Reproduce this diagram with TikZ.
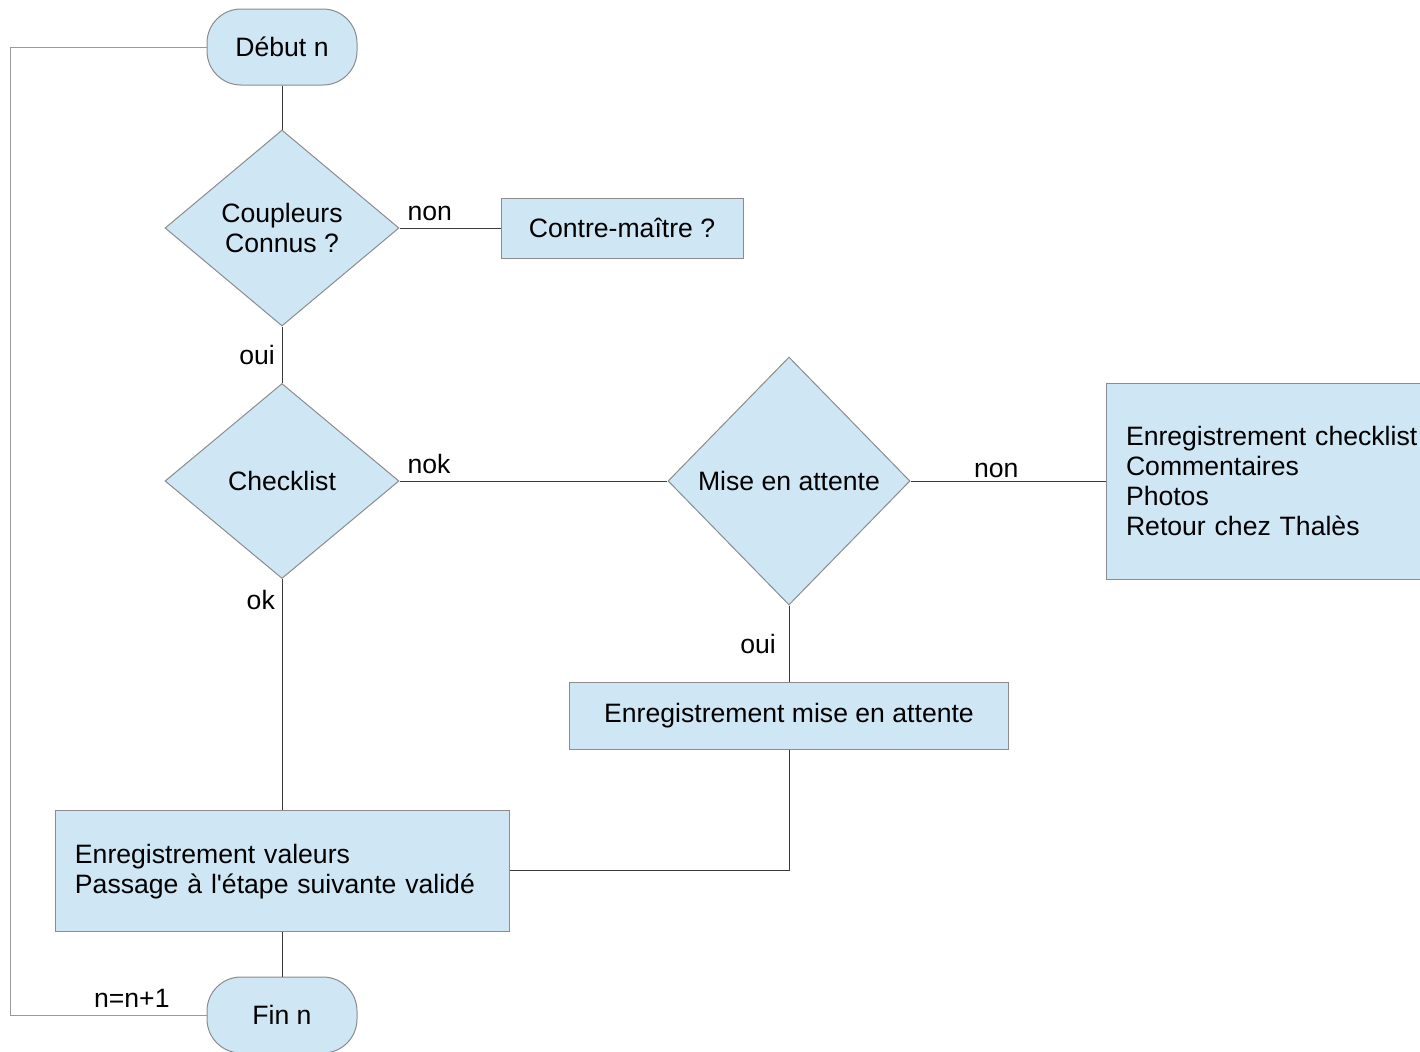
\documentclass[tikz,border=0pt]{standalone}
\usepackage{fontspec}
\setmainfont{Liberation Sans}
\usetikzlibrary{shapes.geometric}

\definecolor{boxfill}{HTML}{CFE6F4}
\definecolor{boxline}{HTML}{8C8C8C}
\definecolor{linkline}{HTML}{3A3A3A}
\definecolor{loopline}{HTML}{9A9A9A}

\tikzset{
  base/.style={draw=boxline, fill=boxfill, line width=0.5pt, font=\fontsize{13.3}{14.9}\selectfont},
  terminal/.style={base, rectangle, rounded corners=17pt, minimum width=75pt, minimum height=38pt},
  decision/.style={base, diamond, inner sep=0pt, align=center},
  process/.style={base, rectangle, inner sep=0pt},
  listbox/.style={base, rectangle, inner xsep=10pt, inner ysep=0pt, align=left},
  link/.style={draw=linkline, line width=0.5pt},
  lbl/.style={font=\fontsize{13.3}{14.9}\selectfont, text=black}
}

\begin{document}
\begin{tikzpicture}[x=0.5pt,y=-0.5pt]
\useasboundingbox (0,0) rectangle (1420,1051);
% define the steps of the flowchart
  \node[terminal]  (debut)   at (282,47)      {Début n};
  \node[decision, minimum width=117pt, minimum height=98pt] (coupl) [below of=debut, node distance=90.5pt] {Coupleurs\\Connus ?};
  \node[process, minimum width=121pt, minimum height=30pt] (contre) [right of=coupl, node distance=170pt] {Contre-maître ?};
  \node[decision, minimum width=117pt, minimum height=97.5pt] (check) [below of=coupl, node distance=126.5pt] {Checklist};
  \node[decision, minimum width=121pt, minimum height=124pt] (attente) [right of=check, node distance=253.5pt] {Mise en attente};
  \node[listbox, minimum width=180pt, minimum height=98pt, text width=160pt] (retour) [right of=attente, node distance=248.5pt]
        {Enregistrement checklist\\Commentaires\\Photos\\Retour chez Thalès};
  \node[process, minimum width=219.5pt, minimum height=33.5pt] (enratt) [below of=attente, node distance=117.25pt] {Enregistrement mise en attente};
  \node[listbox, minimum width=227pt, minimum height=60.5pt, text width=207pt] (valeurs) [below of=check, node distance=194.75pt]
        {\rule{0pt}{11pt}Enregistrement valeurs\\Passage à l\textquotesingle étape suivante validé};
  \node[terminal]  (fin)     [below of=valeurs, node distance=72.25pt] {Fin n};
  \coordinate (boucle) at (10,1015);

% define the links
  \path[link] (debut)  edge (coupl)
        (coupl)   edge node[lbl, pos=0.3, above] {non} (contre)
                  edge node[lbl, midway, left] {oui} (check)
        (check)   edge node[lbl, pos=0.11, above] {nok} (attente)
                  edge node[lbl, pos=0.09, left] {ok} (valeurs)
        (attente) edge node[lbl, pos=0.44, above, yshift=-2pt] {non} (retour)
                  edge node[lbl, midway, left, xshift=-3pt] {oui} (enratt)
        (valeurs) edge (fin);
  \draw[link] (enratt.south) |- (valeurs.east);
  \draw[draw=loopline, line width=0.5pt] (debut.west) -| (boucle) -- (fin.west)
        node[lbl, pos=0.62, above] {n=n+1};
\end{tikzpicture}
\end{document}
